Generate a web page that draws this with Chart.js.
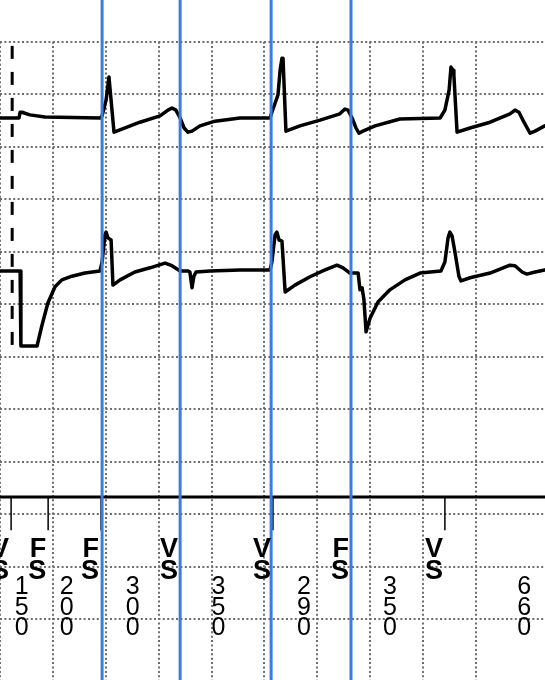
<!DOCTYPE html>
<html>
<head>
<meta charset="utf-8">
<script src="https://cdn.jsdelivr.net/npm/chart.js@4.4.0/dist/chart.umd.min.js"></script>
<style>
  html, body { margin: 0; padding: 0; background: #fff; }
  #wrap { width: 545px; height: 680px; position: relative; }
</style>
</head>
<body>
<div id="wrap"><canvas id="strip"></canvas></div>
<script>
// time in ms, amplitude in grid divisions (0 = channel baseline)
const ch1Time = [0, 72, 76, 83, 113, 170, 378, 386, 401, 412, 431, 473, 529, 605, 635, 650, 665, 681, 696, 711,
  726, 756, 813, 907, 1021, 1028, 1051, 1059, 1066, 1070, 1081, 1134, 1210, 1285, 1304, 1316, 1331, 1346, 1357, 1372,
  1418, 1512, 1664, 1682, 1698, 1705, 1713, 1716, 1728, 1777, 1853, 1928, 1947, 1962, 1981, 2004, 2023, 2060];
const ch1Amp = [0, 0, 0.11, 0.11, 0.06, 0.02, 0, 0.04, 0.34, 0.78, -0.27, -0.19, -0.08, 0.04, 0.15, 0.19, 0.15, 0, -0.19, -0.27,
  -0.25, -0.15, -0.06, 0, 0, 0.11, 0.44, 0.91, 1.14, 1.14, -0.25, -0.15, -0.04, 0.08, 0.17, 0.15, 0, -0.19, -0.29, -0.25,
  -0.15, -0.02, 0, 0.15, 0.53, 0.97, 0.91, 0.82, -0.27, -0.19, -0.08, 0.08, 0.15, 0.11, -0.08, -0.29, -0.25, -0.15];

const ch2Time = [0, 76, 79, 140, 159, 181, 208, 234, 272, 321, 378, 386, 397, 401, 408, 420, 427, 454, 510, 567,
  624, 650, 681, 711, 718, 726, 733, 741, 794, 907, 1021, 1028, 1040, 1047, 1055, 1066, 1078, 1115, 1172, 1229,
  1274, 1297, 1323, 1354, 1361, 1369, 1376, 1384, 1399, 1429, 1474, 1531, 1588, 1667, 1682, 1694, 1701, 1709, 1720, 1735,
  1743, 1777, 1853, 1928, 1947, 1974, 1992, 2023, 2060];
const ch2Amp = [0, 0, -1.43, -1.43, -1.03, -0.61, -0.30, -0.17, -0.10, -0.04, 0, 0.17, 0.69, 0.74, 0.63, 0.59, -0.27, -0.17, -0.02, 0.06,
  0.15, 0.10, 0, 0, -0.02, -0.32, -0.10, -0.02, 0, 0.02, 0.02, 0.17, 0.69, 0.74, 0.59, 0.57, -0.40, -0.27, -0.11, 0.02,
  0.11, 0.06, -0.04, -0.04, -0.36, -0.32, -0.55, -1.16, -0.90, -0.59, -0.36, -0.17, -0.04, 0, 0.17, 0.63, 0.74, 0.67, 0.36, -0.10,
  -0.19, -0.13, -0.04, 0.11, 0.10, -0.02, -0.06, -0.02, 0.02];

// marker channel
const markerTimes = [42, 182, 382, 681, 1032, 1327, 1682];
const markerLabels = ['VS', 'FS', 'FS', 'VS', 'VS', 'FS', 'VS'];
const intervalLabels = ['150', '200', '300', '350', '290', '350', '660'];

// calipers and the dashed event line
const blueTimes = [386, 681, 1025, 1327];
const dashTime = 46;

const CH1_BASE = 10.546;
const CH2_BASE = 7.632;
const AXIS_Y = 3.327;
const TICK_END = 2.70;
const X_MAX = 2060.5;

const pts = (ts, vs, base) => ts.map((t, i) => ({ x: t, y: vs[i] + base }));

const markerTicks = [];
markerTimes.forEach(t => {
  markerTicks.push({ x: t, y: AXIS_Y }, { x: t, y: TICK_END }, { x: t, y: null });
});

const blueSets = blueTimes.map(t => ({
  data: [{ x: t, y: -0.3 }, { x: t, y: 12.9 }],
  borderColor: '#3b7ce2',
  borderWidth: 3,
  clip: false,
  order: 0
}));

const markerText = {
  id: 'markerText',
  afterDraw(chart) {
    const ctx = chart.ctx;
    const xs = chart.scales.x;
    ctx.save();
    ctx.fillStyle = '#000';
    ctx.textAlign = 'right';
    ctx.font = 'bold 27px "Liberation Sans", Arial, sans-serif';
    markerTimes.forEach((t, i) => {
      const px = xs.getPixelForValue(t) - 2;
      ctx.fillText(markerLabels[i][0], px, 557);
      ctx.fillText(markerLabels[i][1], px, 579);
    });
    ctx.textAlign = 'center';
    ctx.font = '25px "Liberation Sans", Arial, sans-serif';
    intervalLabels.forEach((lab, i) => {
      const t0 = markerTimes[i];
      const t1 = i + 1 < markerTimes.length ? markerTimes[i + 1] : t0 + Number(lab);
      const cx = (xs.getPixelForValue(t0) + xs.getPixelForValue(t1)) / 2 - 8;
      lab.split('').forEach((d, j) => ctx.fillText(d, cx, 594 + j * 20.5));
    });
    ctx.restore();
  }
};

const gridStyle = {
  color: '#6e6e6e',
  lineWidth: 2,
  drawTicks: false
};
const gridBorder = { display: false, dash: [2, 2.4] };

new Chart(document.getElementById('strip'), {
  type: 'line',
  data: {
    datasets: [
      { data: pts(ch1Time, ch1Amp, CH1_BASE), borderColor: '#000', borderWidth: 3.5, order: 2 },
      { data: pts(ch2Time, ch2Amp, CH2_BASE), borderColor: '#000', borderWidth: 3.5, order: 2 },
      { data: [{ x: dashTime, y: 11.92 }, { x: dashTime, y: 6.22 }], borderColor: '#000', borderWidth: 3, borderDash: [13, 13], borderCapStyle: 'butt', order: 3 },
      { data: [{ x: 0, y: AXIS_Y }, { x: X_MAX, y: AXIS_Y }], borderColor: '#000', borderWidth: 3, order: 2 },
      { data: markerTicks, borderColor: '#000', borderWidth: 1.5, spanGaps: false, borderCapStyle: 'butt', order: 2 },
      ...blueSets
    ]
  },
  options: {
    responsive: true,
    maintainAspectRatio: false,
    animation: false,
    layout: { padding: { top: 41.7, left: 0, right: 0, bottom: 0 } },
    elements: {
      point: { radius: 0 },
      line: { tension: 0, borderJoinStyle: 'round', borderCapStyle: 'round' }
    },
    plugins: { legend: { display: false }, tooltip: { enabled: false } },
    scales: {
      x: {
        type: 'linear',
        min: 0,
        max: X_MAX,
        ticks: { display: false, stepSize: 200 },
        grid: { ...gridStyle },
        border: { ...gridBorder },
        afterBuildTicks: s => { s.ticks = s.ticks.filter(t => Math.abs(t.value / 200 - Math.round(t.value / 200)) < 1e-6); },
        afterFit: s => { s.height = 0; }
      },
      y: {
        min: -0.162,
        max: 12,
        ticks: { display: false, stepSize: 1 },
        grid: { ...gridStyle },
        border: { ...gridBorder },
        afterBuildTicks: s => { s.ticks = s.ticks.filter(t => Math.abs(t.value - Math.round(t.value)) < 1e-6); },
        afterFit: s => { s.width = 0; }
      }
    }
  },
  plugins: [markerText]
});
</script>
</body>
</html>
